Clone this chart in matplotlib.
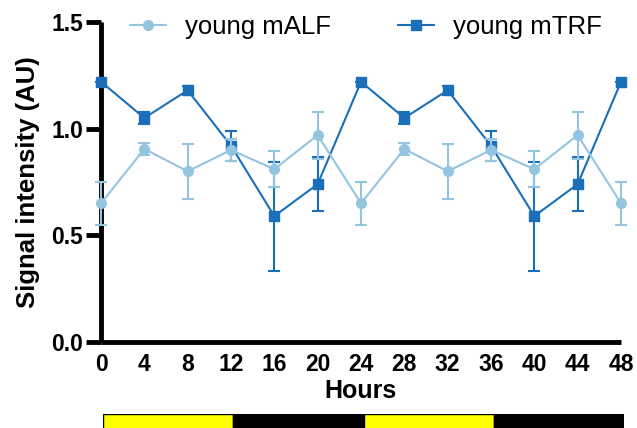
import matplotlib
matplotlib.use("Agg")
import matplotlib.pyplot as plt
from matplotlib.lines import Line2D

# ── Data ──────────────────────────────────────────────────
hours = [0, 4, 8, 12, 16, 20, 24, 28, 32, 36, 40, 44, 48]

malf     = [0.65, 0.905, 0.80, 0.90, 0.81, 0.97, 0.65, 0.905, 0.80, 0.90, 0.81, 0.97, 0.65]
malf_err = [0.10, 0.03, 0.13, 0.05, 0.085, 0.11, 0.10, 0.03, 0.13, 0.05, 0.085, 0.11, 0.10]

mtrf     = [1.22, 1.05, 1.18, 0.92, 0.59, 0.74, 1.22, 1.05, 1.18, 0.92, 0.59, 0.74, 1.22]
mtrf_err = [0.0, 0.03, 0.02, 0.07, 0.255, 0.125, 0.0, 0.03, 0.02, 0.07, 0.255, 0.125, 0.0]

# light/dark schedule
phase_start = [0, 12, 24, 36]
phase_len   = [12, 12, 12, 12]
phase_color = ["#ffff00", "black", "#ffff00", "black"]

LIGHT = "#93c4e0"
DARK  = "#1a6fb8"

plt.rcParams.update({
    "font.family": ["Liberation Sans", "DejaVu Sans"],
    "font.size": 16,
})

fig = plt.figure(figsize=(6.37, 4.28), dpi=100)
ax = fig.add_axes([101/637, 1 - 342/428, 520/637, 320/428])

eb2 = ax.errorbar(hours, mtrf, yerr=mtrf_err, color=DARK, marker="s", markersize=6.5,
                  linewidth=1.5, elinewidth=1.5, capsize=4, capthick=1.5,
                  label="young mTRF", zorder=3)
eb1 = ax.errorbar(hours, malf, yerr=malf_err, color=LIGHT, marker="o", markersize=7,
                  linewidth=1.5, elinewidth=1.5, capsize=4, capthick=1.5,
                  label="young mALF", zorder=4)
for eb in (eb1, eb2):
    for art in eb.get_children():
        art.set_clip_on(False)

ax.set_xlim(0, 48)
ax.set_ylim(0, 1.5)
ax.set_xticks(hours)
ax.set_yticks([0.0, 0.5, 1.0, 1.5])
ax.set_yticklabels(["0.0", "0.5", "1.0", "1.5"])

for s in ["top", "right"]:
    ax.spines[s].set_visible(False)
for s in ["left", "bottom"]:
    ax.spines[s].set_linewidth(3.5)
    ax.spines[s].set_capstyle("butt")

ax.tick_params(axis="y", length=11, width=3.5, pad=2, labelsize=16.5)
ax.tick_params(axis="x", length=0, pad=8, labelsize=16.5)
for lab in ax.get_xticklabels() + ax.get_yticklabels():
    lab.set_fontweight("bold")

ax.set_xlabel("Hours", fontsize=18, fontweight="bold", labelpad=2)
ax.set_ylabel("Signal intensity (AU)", fontsize=18.5, fontweight="bold", labelpad=8)

handles = [
    Line2D([], [], color=LIGHT, marker="o", markersize=7, linewidth=1.5),
    Line2D([], [], color=DARK, marker="s", markersize=6.5, linewidth=1.5),
]
ax.legend(handles, ["young mALF", "young mTRF"], loc="center",
          bbox_to_anchor=(0.51, 0.985), ncol=2, frameon=False, fontsize=18.5,
          handlelength=1.4, handletextpad=0.75, columnspacing=2.6,
          borderaxespad=0)

# light/dark bar
bax = fig.add_axes([103/637, 1 - 431/428, 521/637, 17/428])
bax.barh([0] * len(phase_start), phase_len, left=phase_start, height=1,
         color=phase_color, edgecolor="black", linewidth=1)
bax.set_xlim(0, 48)
bax.set_ylim(-0.5, 0.5)
bax.axis("off")

fig.savefig("out.png", dpi=100)
